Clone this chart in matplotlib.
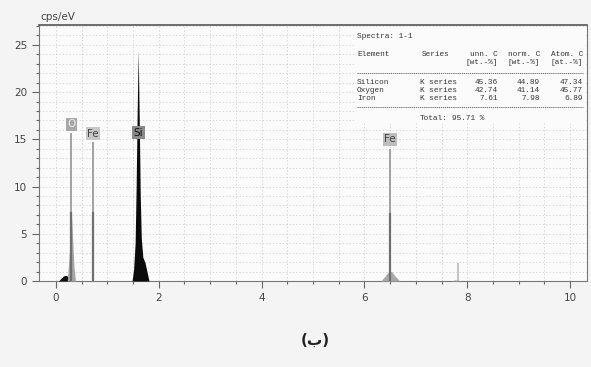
import matplotlib.pyplot as plt
import numpy as np
from matplotlib.ticker import MultipleLocator
from matplotlib.lines import Line2D
from matplotlib.patches import Rectangle

# Spectrum pieces (energy keV, counts cps/eV)
c_e = [0.05, 0.10, 0.15, 0.20, 0.25, 0.28]
c_y = [0.0, 0.3, 0.55, 0.6, 0.4, 0.0]
o_e = [0.22, 0.26, 0.29, 0.30, 0.32, 0.35, 0.38]
o_y = [0.0, 3.0, 6.5, 7.3, 5.0, 1.5, 0.0]
si_e = [1.48, 1.51, 1.54, 1.56, 1.58, 1.60, 1.62, 1.64, 1.66, 1.69, 1.73, 1.77, 1.81]
si_y = [0.0, 1.2, 4.0, 10.0, 18.0, 24.4, 17.0, 9.0, 4.5, 2.5, 2.0, 1.0, 0.0]
fek_e = [6.32, 6.40, 6.47, 6.53, 6.60, 6.69]
fek_y = [0.0, 0.5, 1.0, 1.0, 0.5, 0.0]
feb_e = [7.68, 7.75, 7.82, 7.86]
feb_y = [0.0, 0.1, 0.1, 0.0]

# Element markers: energy, marker height, peak height, label, label y
mk_e = [0.30, 0.72, 1.60, 6.50]
mk_top = [15.7, 14.7, 24.4, 14.0]
mk_peak = [7.3, 7.3, 24.4, 7.2]
mk_lab = ["O", "Fe", "Si", "Fe"]
mk_laby = [16.6, 15.6, 15.7, 15.0]
mk_box = ["#a8a8a8", "#c8c8c8", "#8a8a8a", "#bdbdbd"]
mk_txt = ["#eeeeee", "#444444", "#111111", "#444444"]

# Table
tbl_head = ["Element", "Series", "unn. C", "norm. C", "Atom. C"]
tbl_unit = ["[wt.-%]", "[wt.-%]", "[at.-%]"]
tbl_elem = ["Silicon", "Oxygen", "Iron"]
tbl_series = ["K series", "K series", "K series"]
tbl_unn = ["45.36", "42.74", "7.61"]
tbl_norm = ["44.89", "41.14", "7.98"]
tbl_atom = ["47.34", "45.77", "6.89"]
tbl_total = "95.71 %"

W, H = 591, 367
fig = plt.figure(figsize=(W / 100, H / 100), dpi=100, facecolor="#f4f4f4")
ax = fig.add_axes([39 / W, 1 - 281 / H, (587 - 39) / W, (281 - 25) / H])
ax.set_facecolor("#fbfbfb")

ax.set_xlim(-0.33, 10.33)
ax.set_ylim(0, 27.1)
ax.xaxis.set_major_locator(MultipleLocator(2))
ax.xaxis.set_minor_locator(MultipleLocator(0.5))
ax.yaxis.set_major_locator(MultipleLocator(5))
ax.yaxis.set_minor_locator(MultipleLocator(1))
ax.grid(which="both", linestyle=(0, (1.5, 2.5)), color="#cfcfcf", linewidth=0.6)
ax.set_axisbelow(True)
ax.tick_params(which="major", direction="out", length=5, width=0.8, color="#666666",
               labelsize=7.5, labelcolor="#444444")
ax.tick_params(which="minor", direction="out", length=2.5, width=0.8, color="#666666")
for s in ax.spines.values():
    s.set_color("#777777")
    s.set_linewidth(0.8)
ax.spines["top"].set_color("#555555")
ax.spines["top"].set_linewidth(1.2)

# spectrum
ax.fill_between(c_e, c_y, color="#111111", lw=0, zorder=3)
ax.fill_between(o_e, o_y, color="#a5a5a5", lw=0, zorder=3)
ax.fill_between(si_e, si_y, color="#0a0a0a", lw=0, zorder=3)
ax.fill_between(fek_e, fek_y, color="#a8a8a8", lw=0, zorder=3)
ax.fill_between(feb_e, feb_y, color="#999999", lw=0, zorder=3)
ax.vlines([7.82], 0, [1.9], color="#bbbbbb", lw=1.2, zorder=3)

for e, top, pk, lab, ly, bc, tc in zip(mk_e, mk_top, mk_peak, mk_lab, mk_laby, mk_box, mk_txt):
    if lab != "Si":
        ax.vlines(e, 0, top, color="#9a9a9a", lw=1.3, zorder=4)
        ax.vlines(e, 0, pk, color="#6f6f6f", lw=1.6, zorder=4)
    ax.text(e, ly, lab, ha="center", va="center", fontsize=7.5, color=tc, zorder=6,
            bbox=dict(boxstyle="square,pad=0.15", fc=bc, ec="none"))

# table background
ax.add_patch(Rectangle((5.8, 16.8), 4.5, 10.1, fc="#fbfbfb", ec="none", zorder=2))

mono = "Liberation Mono"
fs = 5.6
tc = "#333333"


def px(x, y):
    return x / W, 1 - y / H


fig.text(*px(357, 37), "Spectra: 1-1", family=mono, fontsize=fs, color=tc, va="center")
hx = [357, 422, 498, 540, 583]
for i, h in enumerate(tbl_head):
    fig.text(*px(hx[i], 54), h, family=mono, fontsize=fs, color=tc, va="center",
             ha="left" if i < 2 else "right")
for i, u in enumerate(tbl_unit):
    fig.text(*px(hx[i + 2], 62.5), u, family=mono, fontsize=fs, color=tc, va="center", ha="right")
for r in range(3):
    y = 82 + r * 8.2
    fig.text(*px(357, y), tbl_elem[r], family=mono, fontsize=fs, color=tc, va="center")
    fig.text(*px(420, y), tbl_series[r], family=mono, fontsize=fs, color=tc, va="center")
    fig.text(*px(498, y), tbl_unn[r], family=mono, fontsize=fs, color=tc, va="center", ha="right")
    fig.text(*px(540, y), tbl_norm[r], family=mono, fontsize=fs, color=tc, va="center", ha="right")
    fig.text(*px(583, y), tbl_atom[r], family=mono, fontsize=fs, color=tc, va="center", ha="right")
fig.text(*px(420, 118), "Total:", family=mono, fontsize=fs, color=tc, va="center")
fig.text(*px(452, 118), tbl_total, family=mono, fontsize=fs, color=tc, va="center")
for yl in (73, 107):
    fig.add_artist(Line2D([357 / W, 583 / W], [1 - yl / H] * 2, color="#555555",
                          lw=0.6, linestyle=(0, (1.5, 1.0))))

fig.text(*px(40, 17), "cps/eV", fontsize=7.5, color="#444444", va="center")
fig.text(*px(315, 340), "(ب)", family="DejaVu Sans", fontsize=11, fontweight="bold",
         color="#222222", ha="center", va="center")

fig.savefig("out.png", dpi=100, facecolor=fig.get_facecolor())
